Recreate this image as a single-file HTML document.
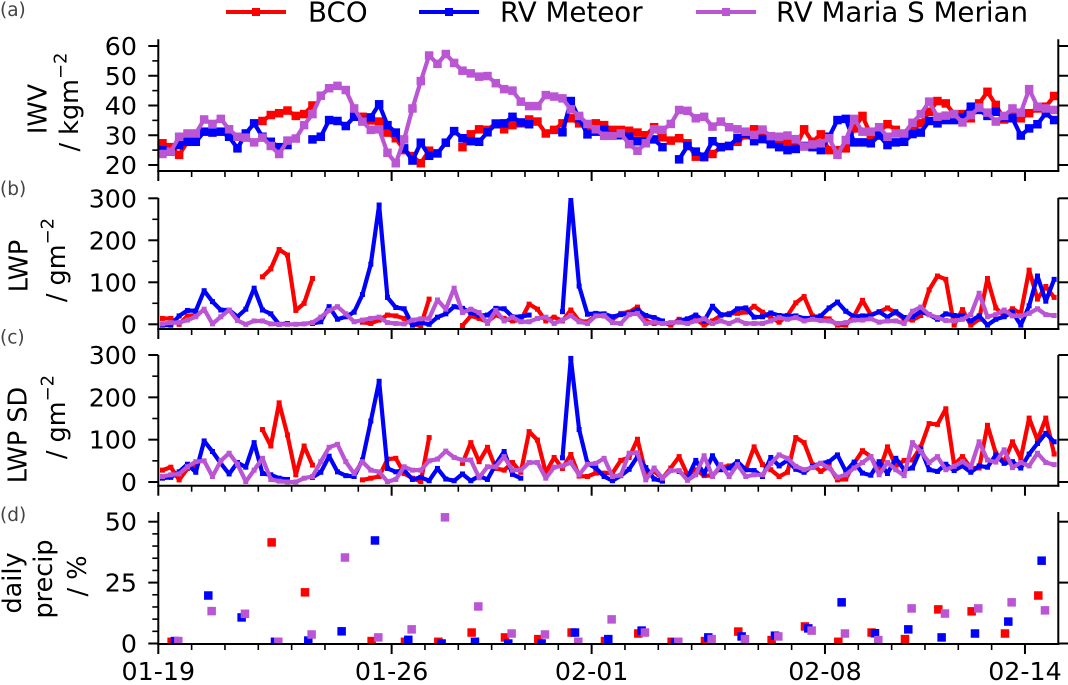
<!DOCTYPE html>
<html><head><meta charset="utf-8"><title>IWV, LWP and precipitation time series</title>
<style>
html,body{margin:0;padding:0;background:#fff}
svg{display:block}
text{font-family:"DejaVu Sans","Liberation Sans",sans-serif;fill:#000}
</style></head>
<body>
<svg id="chart" xmlns="http://www.w3.org/2000/svg" width="1068" height="685" viewBox="0 0 1068 685">
<g>
<g>
<line x1="226" x2="286" y1="12" y2="12" stroke="#ff0000" stroke-width="4"/><rect x="252" y="8" width="8" height="8" fill="#ff0000"/>
<text x="308" y="21.5" font-size="27.7">BCO</text></g>
<g>
<line x1="419" x2="479" y1="12" y2="12" stroke="#0000ff" stroke-width="4"/><rect x="445" y="8" width="8" height="8" fill="#0000ff"/>
<text x="500" y="21.5" font-size="27.7">RV Meteor</text></g>
<g>
<line x1="696" x2="756" y1="12" y2="12" stroke="#ba55d3" stroke-width="4"/><rect x="722" y="8" width="8" height="8" fill="#ba55d3"/>
<text x="776" y="21.5" font-size="27.7">RV Maria S Merian</text></g>
</g>
<g font-size="18.5">
<text x="0" y="16" style="fill:#444">(a)</text>
<text x="0" y="195" style="fill:#444">(b)</text>
<text x="0" y="343.5" style="fill:#444">(c)</text>
<text x="0" y="521" style="fill:#444">(d)</text>
</g>
<g font-size="25.5" text-anchor="middle">
<text transform="translate(46.5,109) rotate(-90)">IWV</text>
<text transform="translate(78,102) rotate(-90)">/ kgm<tspan font-size="18" dy="-11.5">−2</tspan></text>
<text transform="translate(27.5,266) rotate(-90)">LWP</text>
<text transform="translate(65,260) rotate(-90)">/ gm<tspan font-size="18" dy="-11.5">−2</tspan></text>
<text transform="translate(26.5,435) rotate(-90)">LWP SD</text>
<text transform="translate(65,417) rotate(-90)">/ gm<tspan font-size="18" dy="-11.5">−2</tspan></text>
<text transform="translate(21,583) rotate(-90)">daily</text>
<text transform="translate(52,579) rotate(-90)">precip</text>
<text transform="translate(86,576) rotate(-90)">/ %</text>
</g>
</svg>
<script>
var n = null;
var seriesNames = ['bco', 'rv-meteor', 'rv-maria-s-merian'];
var seriesColors = ['#ff0000', '#0000ff', '#ba55d3'];
var dateLabels = ['01-19', '01-26', '02-01', '02-08', '02-14'];
var dateLabelDays = [0, 7, 13, 20, 26];

var iwvBco = [27.3,26,23.4,27.8,29,n,n,n,n,n,n,n,
34.8,36.8,37.4,38.3,36.5,37.1,40,n,n,n,n,n,
36.2,35,34.6,30.9,29,25,23,20.6,24.8,n,n,n,
26,30.3,32,31.8,34,32,33.4,34,35.3,34.6,30.6,31.8,
34,35.7,34,33,34,33.4,31.8,31.8,31.5,30.9,30,32.7,
29.3,28.2,29,27.3,22.8,22.6,23.7,26,26.4,27.8,30,32,
31.2,29.5,28.4,27.3,26.2,32,27.8,30.3,25,25,25.6,32.3,
36.5,30,31.2,33.7,31.8,30.1,31.8,34,37.9,41.5,40.7,37.1,
37.1,35.7,40.7,44.6,40.2,35.3,36.8,35.7,37.4,39,39.6,43.2];
var iwvMeteor = [25,24.5,26.7,27.8,27.8,31.2,30.9,31.2,29.5,25.6,30.6,34,
29.5,27.8,26,26.7,n,n,28.6,29.5,35.1,34.8,33.1,36.2,
34.8,36,40.4,33.4,30.9,25.6,21.5,27.5,23.1,23.9,27.5,31.4,
29,28,27.8,31,33.7,34,36.2,34.3,33.7,n,n,n,
31,41.5,35.7,30.3,31.2,31.8,30,30,29.5,28,27.8,28.6,
26,n,21.9,26.4,24.5,22.8,28,26,26.4,29,30.6,28,
28.7,27,26,25,25.4,26.4,26,25,29.5,35.1,35.5,27.6,
27.6,27.3,29.9,26.7,27.6,27.8,30.4,30.9,34.8,34,35.1,35.1,
36,39.6,38.5,36.5,37.9,36,35.7,29.9,32.3,33.7,37.4,35.1];
var iwvMerian = [23.7,24.5,29.5,30.6,30.6,35.3,33.8,35.5,32,29.5,29.2,27.6,
29.2,26.4,23.7,28.2,28.9,33.4,37.1,43.3,45.8,46.6,45.2,39,
34.6,31.8,32,24.1,20.6,28.6,39,48.2,56.8,54,57.3,54.3,
51.7,50.8,49.7,49.9,47.5,45.5,45,41.3,39.8,39.8,43.5,43,
42.4,38.7,36.5,33.8,32,29.8,29.8,30.6,27,24.8,27.3,32,
31.8,33.8,38.5,38.2,35.7,36.2,32.9,34.6,32.7,32,31.2,30.1,
31.9,29.7,29.5,29.9,28.7,26.2,26.9,27.3,29,23.4,28.4,35.5,
31.2,31.2,32.7,29.5,30.6,30.6,34.2,37.1,41.3,36.2,36.6,37.1,
34.3,36.8,39.3,37.6,34.6,36.5,39,37.6,45.5,39.6,39,38.5];

var lwpBco = [14,14,0,20,22,n,n,n,n,n,n,n,
113,132,178,165,33,50,109,n,n,n,n,n,
5,2,10,22,20,14,0,-3,60,n,n,n,
-3,20,14,6,22,14,8,10,48,36,8,17,
8,34,8,6,21,20,12,26,29,41,8,2,
5,-2,12,8,12,-2,8,21,26,26,29,43,
29,16,5,21,51,66,20,16,13,-2,-2,20,
57,23,29,39,27,13,10,21,82,115,107,-2,
35,-2,12,109,39,20,37,26,129,60,90,64];
var lwpMeteor = [-2,-2,20,33,32,80,54,34,34,18,36,86,
34,25,0,2,n,n,2,6,42,12,18,29,
71,143,284,64,40,37,-2,4,0,17,25,42,
38,28,21,22,38,37,18,18,22,n,n,n,
30,305,91,24,26,25,18,23,26,34,21,16,
8,n,8,13,22,8,43,23,23,37,39,17,
18,27,21,20,20,14,16,20,39,53,31,18,
20,21,30,17,30,16,18,30,23,12,25,21,
20,8,20,-2,12,18,29,-2,44,115,55,107];
var lwpMerian = [1,4,4,10,18,36,1,18,34,9,0,8,
8,1,0,0,0,1,4,17,33,42,25,6,
10,14,17,4,2,1,10,13,14,58,36,86,
28,36,28,2,33,8,17,6,6,14,17,2,
10,21,6,2,20,21,4,2,23,26,2,5,
2,4,5,2,8,13,2,8,2,10,2,2,
2,8,16,12,16,8,12,9,8,2,4,10,
10,13,5,8,8,2,31,41,23,16,9,8,
12,23,74,18,23,34,20,20,26,37,23,21];

var sdBco = [28,35,5,32,36,n,n,n,n,n,n,n,
124,85,187,111,17,85,40,n,n,n,n,n,
5,9,13,54,56,20,9,1,105,n,n,n,
44,93,48,82,32,28,46,23,119,99,22,58,
32,65,14,13,21,21,21,51,58,101,20,25,
9,33,60,17,29,15,15,35,38,41,29,83,
41,29,13,23,105,93,41,25,37,5,7,44,
74,60,25,83,37,51,52,83,138,136,173,41,
60,33,33,134,68,48,95,56,151,99,151,66];
var sdMeteor = [9,11,24,42,23,97,72,44,19,46,35,93,
20,17,9,6,n,n,11,23,61,24,15,13,
52,144,238,32,24,28,6,11,3,32,7,3,
19,3,14,6,42,72,18,9,n,n,n,n,
57,292,124,44,33,13,3,15,30,60,34,7,
2,n,25,9,51,19,62,29,33,48,29,27,
13,58,38,51,30,23,37,44,48,64,25,47,
21,16,48,20,56,29,33,78,29,25,42,27,
38,23,38,35,64,44,48,33,66,91,115,95];
var sdMerian = [13,17,19,36,48,50,13,50,68,42,1,28,
56,6,2,0,0,9,13,48,82,89,48,20,
48,28,24,1,6,36,28,28,50,54,73,58,
52,52,10,36,36,60,28,28,46,46,9,35,
38,46,17,42,44,56,13,16,68,69,5,33,
9,27,27,4,17,62,13,41,13,41,13,17,
17,44,64,56,37,29,34,44,33,11,17,33,
46,60,17,46,29,15,93,72,46,60,29,37,
48,35,95,52,47,76,34,46,38,68,46,41];

var precipBco = [0.7,n,n,41.5,21,n,1,0.7,0.7,4.5,2.5,1.8,4.5,1,4.1,0.7,1,4.9,1.4,7,0.7,4.5,1.8,14,13.2,4.1,19.7];
var precipMeteor = [1,19.7,10.7,0.7,1.2,5,42.3,1.5,0,0.7,0,0,4.5,1.8,5.3,0.4,2.5,2.9,3.2,6.2,16.9,4.2,5.8,2.5,4.1,9,34];
var precipMerian = [1,13.3,12.2,0.7,3.7,35.3,2.5,5.8,51.8,15.2,4.1,3.7,0.7,9.9,4.5,0.7,1.8,1.8,2.9,5.3,4.1,1.4,14.4,12.3,14.4,16.9,13.6];

var iwvTicks = [20,30,40,50,60], iwvMinor = [25,35,45,55];
var lwpTicks = [0,100,200,300], lwpMinor = [50,150,250];
var precipTicks = [0,25,50], precipMinor = [5,10,15,20,30,35,40,45];

var svg = document.getElementById('chart');
var NS = 'http://www.w3.org/2000/svg';
var xLeft = 158.3, xRight = 1058.3, pxPerDay = 900 / 27;
function xScale(day) { return xLeft + day * pxPerDay; }
function mk(tag, parent) { var e = document.createElementNS(NS, tag); parent.appendChild(e); return e; }

var panels = [
  {key:'iwv', top:39.3, bottom:171, y0:165, v0:20, k:2.975, ticks:iwvTicks, minor:iwvMinor, data:[iwvBco,iwvMeteor,iwvMerian], ms:8.5},
  {key:'lwp', top:198, bottom:329, y0:324.3, v0:0, k:0.42, ticks:lwpTicks, minor:lwpMinor, data:[lwpBco,lwpMeteor,lwpMerian], ms:5},
  {key:'lwp-sd', top:355, bottom:485.7, y0:482, v0:0, k:0.4233, ticks:lwpTicks, minor:lwpMinor, data:[sdBco,sdMeteor,sdMerian], ms:5},
  {key:'precip', top:512, bottom:644, y0:643.5, v0:0, k:2.436, ticks:precipTicks, minor:precipMinor, data:[precipBco,precipMeteor,precipMerian], ms:8.5}
];
var defs = mk('defs', svg);

function line(parent, x1, y1, x2, y2, w) {
  var l = mk('line', parent);
  l.setAttribute('x1', x1); l.setAttribute('y1', y1);
  l.setAttribute('x2', x2); l.setAttribute('y2', y2);
  l.setAttribute('stroke', '#000'); l.setAttribute('stroke-width', w);
  return l;
}

panels.forEach(function (p, pi) {
  var yScale = function (v) { return p.y0 - (v - p.v0) * p.k; };
  var g = mk('g', svg);
  
  

  var cp = mk('clipPath', defs);
  cp.setAttribute('id', 'clip-' + p.key);
  var cr = mk('rect', cp);
  cr.setAttribute('x', xLeft); cr.setAttribute('y', p.top);
  cr.setAttribute('width', xRight - xLeft); cr.setAttribute('height', p.bottom - p.top);

  var marks = mk('g', g);
  marks.setAttribute('clip-path', 'url(#clip-' + p.key + ')');
  
  

  p.data.forEach(function (vals, si) {
    var color = seriesColors[si];
    var sg = mk('g', marks);
    
    
    var isPrecip = p.key === 'precip';
    if (!isPrecip) {
      var run = [];
      var flush = function () {
        if (run.length > 1) {
          var pl = mk('polyline', sg);
          
          
          pl.setAttribute('points', run.join(' '));
          pl.setAttribute('fill', 'none');
          pl.setAttribute('stroke', color);
          pl.setAttribute('stroke-width', 4.2);
          pl.setAttribute('stroke-linejoin', 'round');
        }
        run = [];
      };
      vals.forEach(function (v, i) {
        if (v === null) { flush(); return; }
        run.push(xScale(0.125 + 0.25 * i).toFixed(2) + ',' + yScale(v).toFixed(2));
      });
      flush();
    }
    vals.forEach(function (v, i) {
      if (v === null) return;
      var cx = isPrecip ? xScale(i + 0.5 + (si - 1) * 0.1) : xScale(0.125 + 0.25 * i);
      var r = mk('rect', sg);
      
      
      r.setAttribute('x', (cx - p.ms / 2).toFixed(2));
      r.setAttribute('y', (yScale(v) - p.ms / 2).toFixed(2));
      r.setAttribute('width', p.ms);
      r.setAttribute('height', p.ms);
      r.setAttribute('fill', color);
    });
  });

  var ax = mk('g', g);
  
  
  line(ax, xLeft, p.top, xLeft, p.bottom + 1, 2);
  line(ax, xRight, p.top, xRight, p.bottom + 1, 2);
  line(ax, xLeft - 1, p.bottom, xRight + 1, p.bottom, 2);

  p.ticks.forEach(function (v) {
    var y = yScale(v);
    line(ax, xLeft - 10, y, xLeft, y, 2);
    line(ax, xRight, y, xRight + 10, y, 2);
    var t = mk('text', ax);
    
    
    t.setAttribute('x', 137);
    t.setAttribute('y', y + 9);
    t.setAttribute('text-anchor', 'end');
    t.setAttribute('font-size', 25.3);
    t.textContent = v;
  });
  p.minor.forEach(function (v) {
    var y = yScale(v);
    line(ax, xLeft - 6, y, xLeft, y, 1.6);
  });
  for (var d = 0; d < 27; d++) {
    var x = xScale(d);
    var major = dateLabelDays.indexOf(d) >= 0;
    line(ax, x, p.bottom, x, p.bottom + (major ? 10 : 6), major ? 2 : 1.6);
  }
  if (p.key === 'precip') {
    dateLabels.forEach(function (lab, i) {
      var t = mk('text', ax);
      
      
      t.setAttribute('x', xScale(dateLabelDays[i]));
      t.setAttribute('y', 680);
      t.setAttribute('text-anchor', 'middle');
      t.setAttribute('font-size', 25.3);
      t.textContent = lab;
    });
  }
});
</script>
</body></html>
